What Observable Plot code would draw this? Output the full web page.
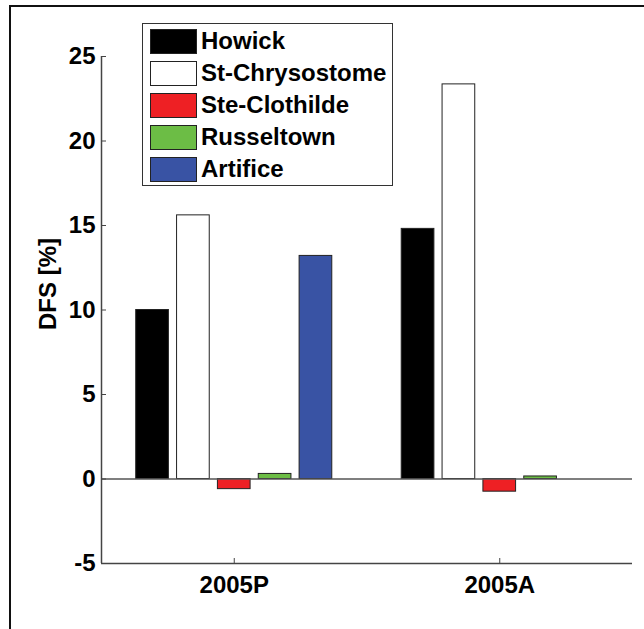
<!DOCTYPE html>
<html><head><meta charset="utf-8">
<script src="https://cdn.jsdelivr.net/npm/d3@7"></script>
<script src="https://cdn.jsdelivr.net/npm/@observablehq/plot@0.6"></script>
<style>
html,body{margin:0;padding:0;overflow:hidden;background:#fff;}
#wrap{position:relative;width:644px;height:629px;overflow:hidden;}
#chart{position:absolute;left:0;top:0;}
#border{position:absolute;left:9px;top:5px;width:700px;height:700px;border:2px solid #111;}
#legend{position:absolute;left:142px;top:23px;width:249px;height:161px;border:1.5px solid #333;background:#fff;
  font-family:"Liberation Sans",Arial,sans-serif;font-weight:bold;font-size:24px;color:#000;}
.row{position:absolute;left:7px;height:25px;display:flex;align-items:center;white-space:nowrap;}
.sw{width:47px;height:25px;border:1px solid #222;box-sizing:border-box;margin-right:4px;flex:none;}
</style></head><body>
<div id="wrap"><div id="chart"></div><div id="border"></div><div id="legend"></div></div>
<script>
const categories = ["2005P", "2005A"];
const seriesNames = ["Howick", "St-Chrysostome", "Ste-Clothilde", "Russeltown", "Artifice"];
const seriesColors = ["#000000", "#ffffff", "#ee2024", "#6cbd45", "#3953a4"];
const values2005P = [10.0, 15.6, -0.6, 0.3, 13.2];
const values2005A = [14.8, 23.35, -0.75, 0.15, null];
const yTicks = [-5, 0, 5, 10, 15, 20, 25];
const yLabel = "DFS [%]";

// MATLAB-style grouped bar layout (group width, slot, bar width fraction)
const nS = seriesNames.length;
const groupWidth = Math.min(0.8, nS / (nS + 1.5));
const slot = groupWidth / nS;
const rows = [];
[values2005P, values2005A].forEach((vals, ci) => {
  vals.forEach((v, si) => {
    if (v == null) return;
    const c = ci + 1 - groupWidth / 2 + (si + 0.5) * slot;
    rows.push({cat: categories[ci], series: seriesNames[si], value: v, x1: c - 0.4 * slot, x2: c + 0.4 * slot});
  });
});

const chart = Plot.plot({
  width: 644, height: 629,
  marginLeft: 101, marginRight: 12, marginTop: 56, marginBottom: 66,
  style: {fontFamily: "'Liberation Sans', Arial, sans-serif", fontWeight: "bold", fontSize: "24px", color: "#000", background: "transparent"},
  x: {type: "linear", domain: [0.5, 2.5]},
  y: {domain: [-5, 25]},
  color: {type: "ordinal", domain: seriesNames, range: seriesColors},
  marks: [
    Plot.rect(rows, {x1: "x1", x2: "x2", y1: d => 0, y2: "value", fill: "series", stroke: "#222", strokeWidth: 1}),
    Plot.ruleY([0], {stroke: "#555", strokeWidth: 1.5}),
    Plot.ruleX([0.5], {stroke: "#444", strokeWidth: 1.5}),
    Plot.ruleY([-5], {stroke: "#444", strokeWidth: 1.5}),
    Plot.axisY({ticks: yTicks, tickFormat: d => String(d), tickSize: -5, tickPadding: 11, label: null, stroke: "#444", fill: "#000"}),
    Plot.axisX({ticks: [1, 2], tickFormat: d => categories[d - 1], tickSize: -5, tickPadding: 17, label: null, stroke: "#444", fill: "#000"}),
    Plot.text([yLabel], {text: d => d, frameAnchor: "left", rotate: -90, dx: -53, dy: 20, fill: "#000", fontSize: 24, fontWeight: "bold"})
  ]
});
document.getElementById("chart").appendChild(chart);

const legend = document.getElementById("legend");
seriesNames.forEach((name, i) => {
  const row = document.createElement("div");
  row.className = "row";
  row.style.top = (4.5 + i * 32) + "px";
  const sw = document.createElement("div");
  sw.className = "sw";
  sw.style.background = seriesColors[i];
  const t = document.createElement("span");
  t.textContent = name;
  row.appendChild(sw); row.appendChild(t);
  legend.appendChild(row);
});
</script>
</body></html>
